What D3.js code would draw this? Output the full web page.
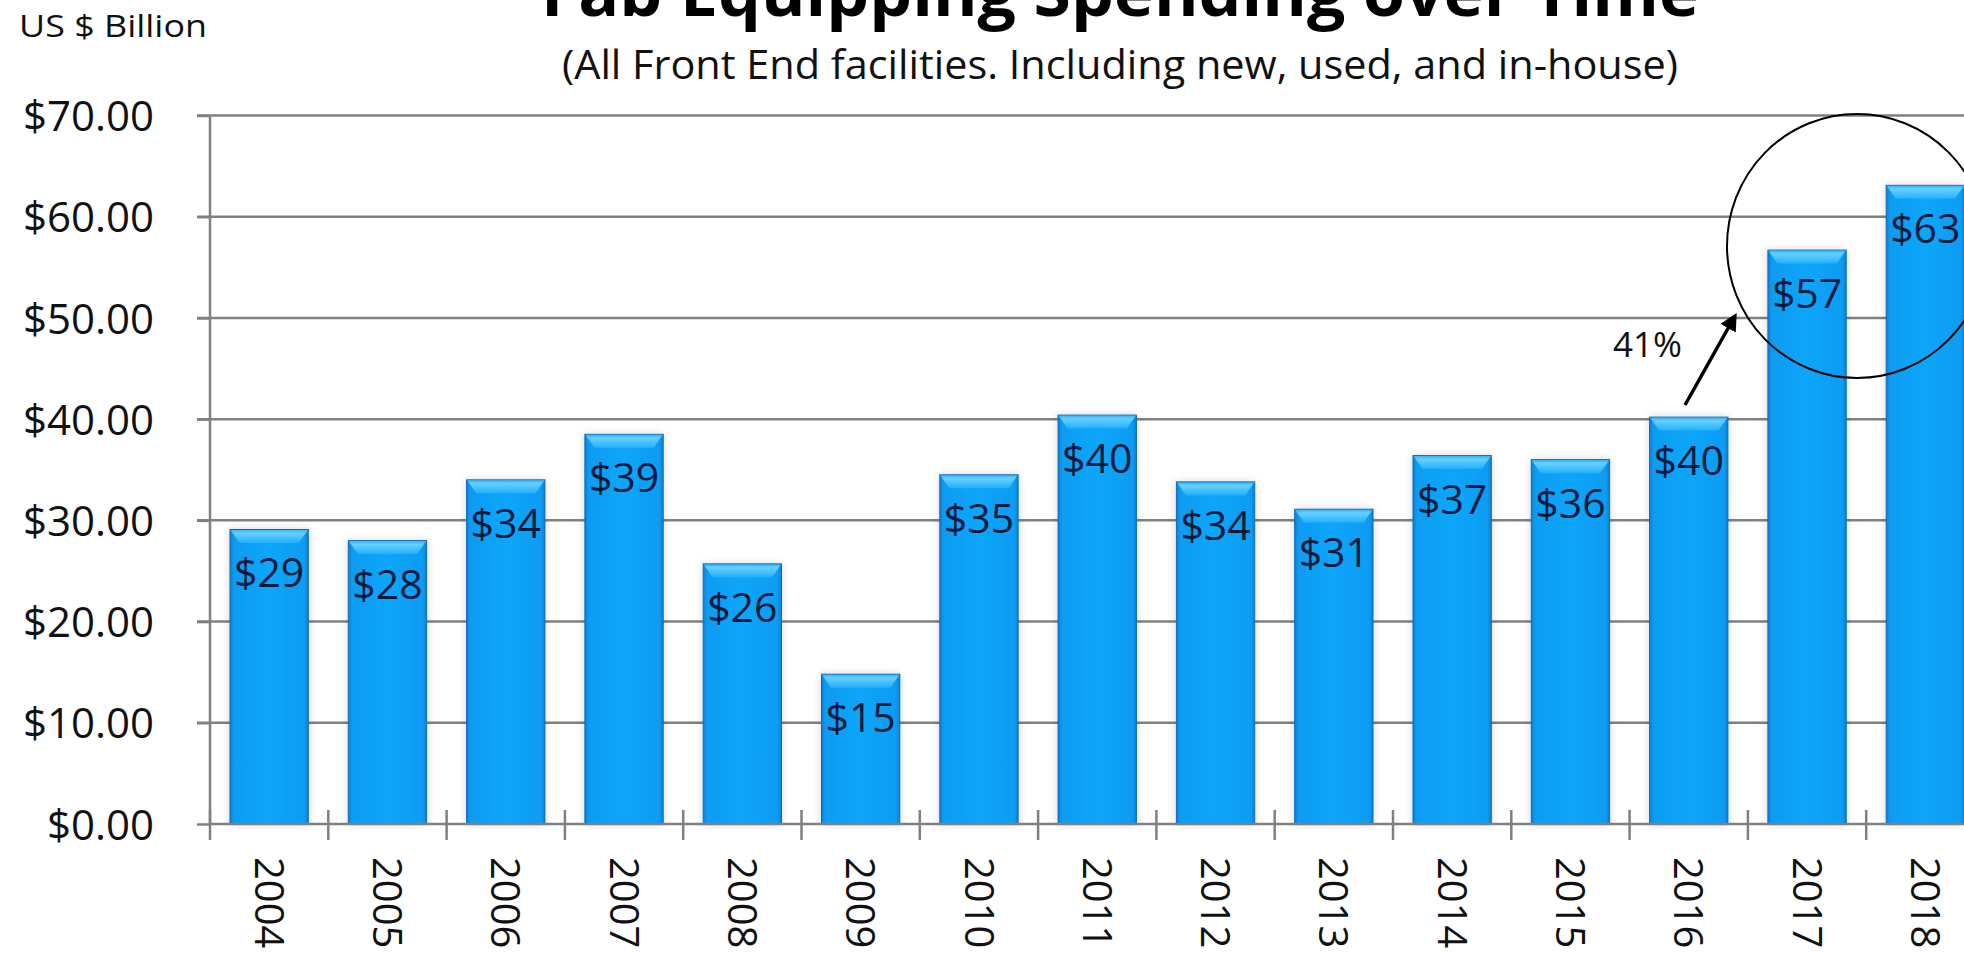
<!DOCTYPE html>
<html>
<head>
<meta charset="utf-8">
<script src="https://cdn.jsdelivr.net/npm/d3@7"></script>
<style>
  html, body { margin: 0; padding: 0; background: #ffffff; overflow: hidden; }
  svg { display: block; font-family: "Open Sans", "Noto Sans", sans-serif; }
</style>
</head>
<body>
<svg id="chart" width="1964" height="953"></svg>
<script>
// ---- data ----
const years = ["2004","2005","2006","2007","2008","2009","2010","2011","2012","2013","2014","2015","2016","2017","2018"];
const spending = [29.1, 28.0, 34.0, 38.5, 25.7, 14.8, 34.5, 40.4, 33.8, 31.1, 36.4, 36.0, 40.2, 56.7, 63.1];
const valueLabels = ["$29","$28","$34","$39","$26","$15","$35","$40","$34","$31","$37","$36","$40","$57","$63"];
const yTicks = [0, 10, 20, 30, 40, 50, 60, 70];
const titleText = "Fab Equipping Spending over Time";
const subtitleText = "(All Front End facilities. Including new, used, and in-house)";
const unitText = "US $ Billion";
const growthText = "41%";

const svg = d3.select("#chart");
const W = 1964, H = 953;

const x0 = 210, band = 118.3;
const x = d3.scaleBand().domain(years)
  .range([x0, x0 + band * years.length])
  .paddingInner(0.338).paddingOuter(0.169);
const y = d3.scaleLinear().domain([0, 70]).range([824, 115.5]);

const defs = svg.append("defs");
const g1 = defs.append("linearGradient").attr("id", "barGrad").attr("x1", 0).attr("x2", 1).attr("y1", 0).attr("y2", 0);
[[0, "#0a80d4"], [0.05, "#0c9cf2"], [0.5, "#0ea6fa"], [0.95, "#0c9cf2"], [1, "#0a80d4"]]
  .forEach(([o, c]) => g1.append("stop").attr("offset", o).attr("stop-color", c));
const g2 = defs.append("linearGradient").attr("id", "bevelGrad").attr("x1", 0).attr("x2", 0).attr("y1", 0).attr("y2", 1);
[[0, "#3ab2f4"], [0.25, "#66d0ff"], [1, "#22b0fb"]]
  .forEach(([o, c]) => g2.append("stop").attr("offset", o).attr("stop-color", c));
const f = defs.append("filter").attr("id", "shadow").attr("x", "-20%").attr("y", "-5%").attr("width", "140%").attr("height", "110%");
f.append("feGaussianBlur").attr("in", "SourceAlpha").attr("stdDeviation", 4).attr("result", "b");
f.append("feComponentTransfer").attr("in", "b").attr("result", "s")
  .append("feFuncA").attr("type", "linear").attr("slope", 0.16);
const m = f.append("feMerge");
m.append("feMergeNode").attr("in", "s");
m.append("feMergeNode").attr("in", "SourceGraphic");

const axisColor = "#808080";

// gridlines
svg.append("g").selectAll("line").data(yTicks.filter(d => d > 0)).join("line")
  .attr("x1", 197).attr("x2", W)
  .attr("y1", d => y(d)).attr("y2", d => y(d))
  .attr("stroke", axisColor).attr("stroke-width", 2.5);

// y axis
const yAxis = d3.axisLeft(y).tickValues(yTicks).tickSize(13).tickPadding(43)
  .tickFormat(d => "$" + d.toFixed(2));
const ya = svg.append("g").attr("transform", `translate(${x0},0)`).call(yAxis);
ya.select(".domain").attr("stroke", axisColor).attr("stroke-width", 2.5).attr("d", `M0,${y(70)+1}V${y(0)}`);
ya.selectAll(".tick line").attr("stroke", axisColor).attr("stroke-width", 2.5);
ya.selectAll(".tick text").attr("font-size", 42).attr("fill", "#111")
  .attr("font-family", "'Open Sans', sans-serif").attr("dy", "0.36em");

// bars
const bars = svg.append("g").selectAll("g").data(years).join("g");
bars.append("rect")
  .attr("x", d => x(d)).attr("width", x.bandwidth())
  .attr("y", (d, i) => y(spending[i])).attr("height", (d, i) => y(0) - y(spending[i]))
  .attr("fill", "url(#barGrad)").attr("filter", "url(#shadow)")
  .attr("stroke", "#0a6ab8").attr("stroke-width", 1);
bars.append("path")
  .attr("d", (d, i) => {
    const l = x(d) + 0.5, r = x(d) + x.bandwidth() - 0.5, t = y(spending[i]) + 0.5;
    return `M${l},${t}H${r}L${r-9},${t+13}H${l+9}Z`;
  })
  .attr("fill", "url(#bevelGrad)");
bars.append("text")
  .attr("x", d => x(d) + x.bandwidth() / 2)
  .attr("y", (d, i) => y(spending[i]) + 58)
  .attr("text-anchor", "middle").attr("font-size", 41).attr("fill", "#0a1a3c")
  .text((d, i) => valueLabels[i]);

// x axis
const xa = svg.append("g");
xa.append("line").attr("x1", x0).attr("x2", W).attr("y1", y(0)).attr("y2", y(0))
  .attr("stroke", axisColor).attr("stroke-width", 2.5);
const bounds = d3.range(years.length + 1).map(i => x.range()[0] + i * x.step());
xa.selectAll("line.tk").data(bounds).join("line").attr("class", "tk")
  .attr("x1", d => d).attr("x2", d => d).attr("y1", y(0) - 14).attr("y2", y(0) + 16)
  .attr("stroke", axisColor).attr("stroke-width", 2.5);
xa.selectAll("text").data(years).join("text")
  .attr("transform", d => `translate(${x(d) + x.bandwidth() / 2},857) rotate(90)`)
  .attr("dy", "0.36em").attr("font-size", 40).attr("fill", "#111")
  .text(d => d);

// titles
svg.append("text").attr("x", 1120).attr("y", 16).attr("text-anchor", "middle")
  .attr("font-size", 64).attr("font-weight", 700).attr("fill", "#000")
  .attr("textLength", 1158).attr("lengthAdjust", "spacingAndGlyphs")
  .text(titleText);
svg.append("text").attr("x", 1120).attr("y", 79).attr("text-anchor", "middle")
  .attr("font-size", 41).attr("fill", "#111")
  .attr("textLength", 1116).attr("lengthAdjust", "spacingAndGlyphs")
  .text(subtitleText);
svg.append("text").attr("x", 19).attr("y", 37)
  .attr("font-size", 31).attr("fill", "#111")
  .attr("textLength", 188).attr("lengthAdjust", "spacingAndGlyphs")
  .text(unitText);

// annotation
svg.append("ellipse").attr("cx", 1857).attr("cy", 246).attr("rx", 130).attr("ry", 132)
  .attr("fill", "none").attr("stroke", "#000").attr("stroke-width", 2);
defs.append("marker").attr("id", "arrow").attr("viewBox", "0 0 10 10")
  .attr("refX", 8).attr("refY", 5).attr("markerWidth", 5).attr("markerHeight", 5)
  .attr("orient", "auto").attr("markerUnits", "strokeWidth")
  .append("path").attr("d", "M0,0L10,5L0,10Z").attr("fill", "#000");
svg.append("line").attr("x1", 1685).attr("y1", 405).attr("x2", 1735).attr("y2", 316)
  .attr("stroke", "#000").attr("stroke-width", 3.5).attr("marker-end", "url(#arrow)");
svg.append("text").attr("x", 1613).attr("y", 357).attr("font-size", 35).attr("fill", "#111")
  .text(growthText);
</script>
</body>
</html>
